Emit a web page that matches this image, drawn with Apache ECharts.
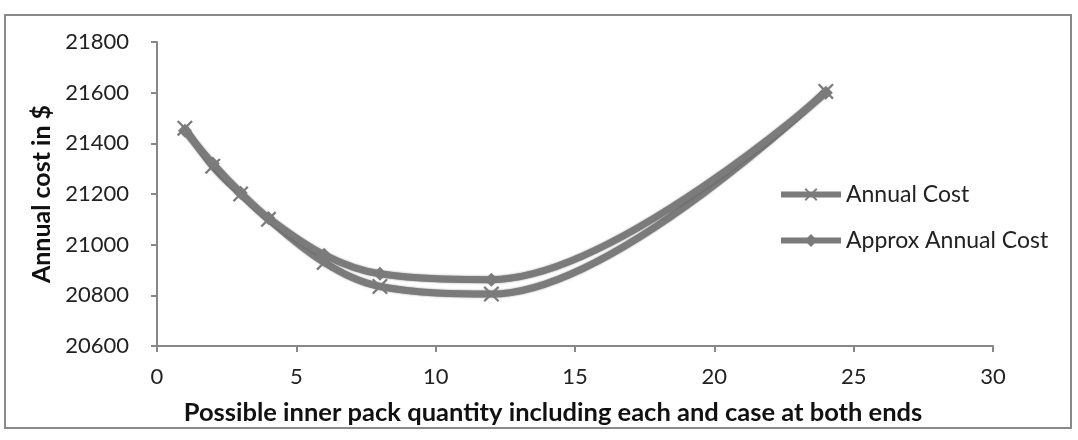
<!DOCTYPE html>
<html>
<head>
<meta charset="utf-8">
<script src="https://cdn.jsdelivr.net/npm/echarts@6/dist/echarts.min.js"></script>
<style>
html,body{margin:0;padding:0;background:#fff;}
#c{width:1078px;height:440px;}
</style>
</head>
<body>
<div id="c"></div>
<script>
const xValues = [1, 2, 3, 4, 6, 8, 12, 24];
const annualCost = [21460, 21310, 21200, 21100, 20930, 20835, 20805, 21605];
const approxAnnualCost = [21450, 21320, 21205, 21105, 20960, 20885, 20862, 21600];
const xTicks = { min: 0, max: 30, interval: 5 };
const yTicks = { min: 20600, max: 21800, interval: 200 };

const xPath = 'path://M2,0 L10,8 L18,0 L20,2 L12,10 L20,18 L18,20 L10,12 L2,20 L0,18 L8,10 L0,2 Z';

const chart = echarts.init(document.getElementById('c'));
const font = 'Lato, "Open Sans", sans-serif';
chart.setOption({
  animation: false,
  backgroundColor: '#fff',
  textStyle: { fontFamily: font },
  graphic: [{
    type: 'rect', shape: { x: 5, y: 15, width: 1066, height: 413 },
    style: { fill: 'none', stroke: '#8a8a8a', lineWidth: 2 }, z: -1
  }],
  grid: { left: 157, right: 85, top: 42, bottom: 94 },
  legend: {
    orient: 'vertical', left: 773, top: 178, itemWidth: 60, itemHeight: 16, itemGap: 23,
    textStyle: { fontSize: 23, color: '#222', fontFamily: font },
    lineStyle: { width: 6 },
    data: ['Annual Cost', 'Approx Annual Cost']
  },
  xAxis: {
    type: 'value', min: xTicks.min, max: xTicks.max, interval: xTicks.interval,
    name: 'Possible inner pack quantity including each and case at both ends',
    nameLocation: 'middle', nameGap: 54,
    nameTextStyle: { fontSize: 25.5, fontWeight: 'bold', color: '#111', fontFamily: font, padding: [0, 44, 0, 0] },
    axisLine: { lineStyle: { color: '#888', width: 2 } },
    axisTick: { show: true, length: 6, lineStyle: { color: '#888', width: 2 } },
    axisLabel: { fontSize: 22, color: '#222', margin: 20 },
    splitLine: { show: false }
  },
  yAxis: {
    type: 'value', min: yTicks.min, max: yTicks.max, interval: yTicks.interval,
    name: 'Annual cost in $', nameLocation: 'middle', nameGap: 102,
    nameTextStyle: { fontSize: 25, fontWeight: 'bold', color: '#111', fontFamily: font },
    axisLine: { show: true, lineStyle: { color: '#888', width: 2 } },
    axisTick: { show: true, length: 6, lineStyle: { color: '#888', width: 2 } },
    axisLabel: { fontSize: 22, color: '#222', margin: 28, formatter: v => String(v) },
    splitLine: { show: false }
  },
  series: [
    {
      name: 'Annual Cost', type: 'line', smooth: 0.35,
      data: xValues.map((x, i) => [x, annualCost[i]]),
      symbol: xPath, symbolSize: 16,
      itemStyle: { color: '#7b7b7b' },
      lineStyle: { color: '#7b7b7b', width: 7, shadowColor: 'rgba(60,60,60,0.6)', shadowBlur: 2 }
    },
    {
      name: 'Approx Annual Cost', type: 'line', smooth: 0.35,
      data: xValues.map((x, i) => [x, approxAnnualCost[i]]),
      symbol: 'diamond', symbolSize: 14,
      itemStyle: { color: '#7b7b7b' },
      lineStyle: { color: '#7b7b7b', width: 7, shadowColor: 'rgba(60,60,60,0.6)', shadowBlur: 2 }
    }
  ]
});
</script>
</body>
</html>
